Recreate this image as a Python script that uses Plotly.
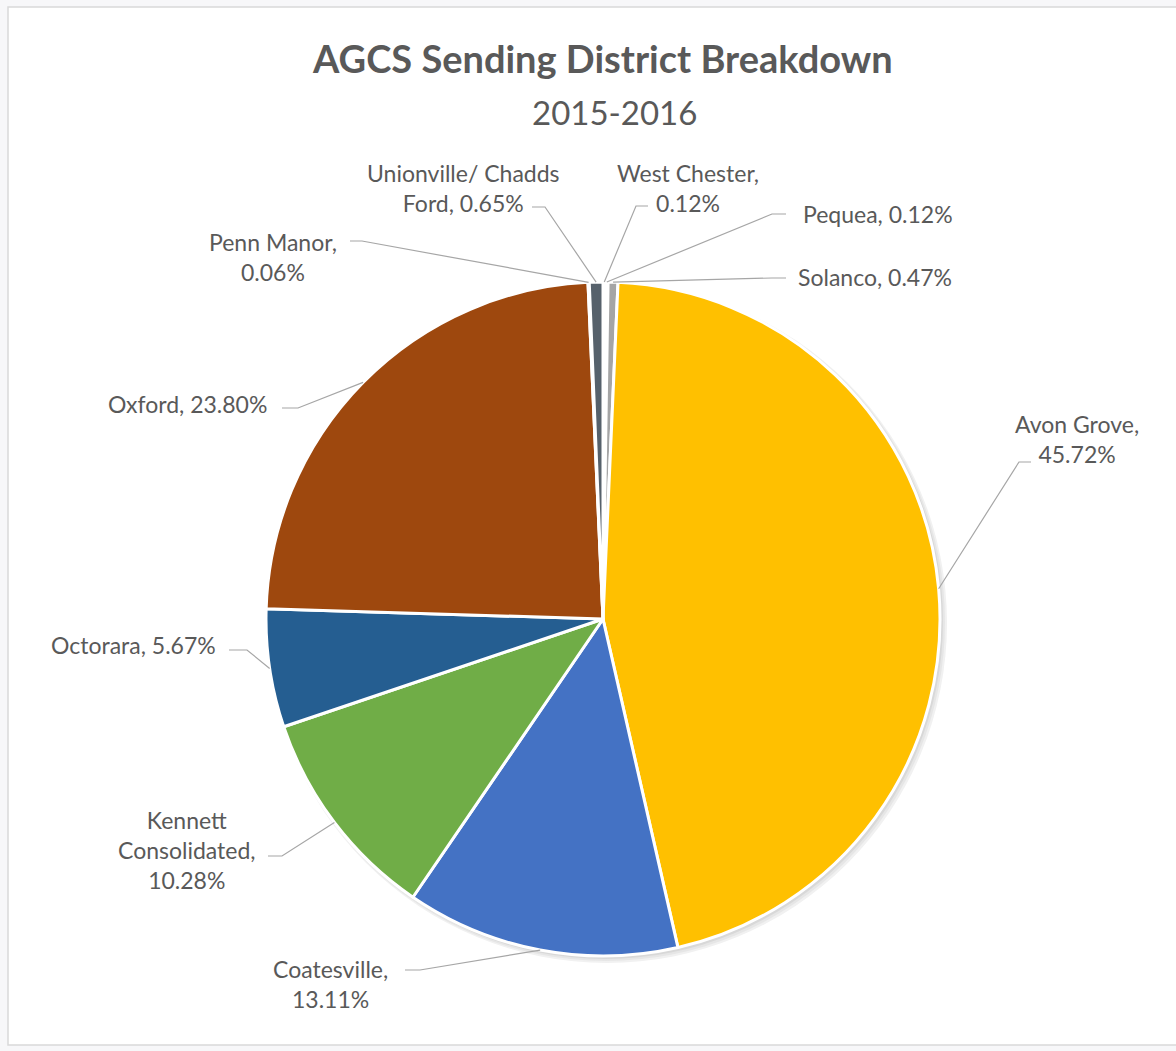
import math
import plotly.graph_objects as go

# ---------------- data ----------------
districts = ["West Chester", "Pequea", "Solanco", "Avon Grove", "Coatesville",
             "Kennett Consolidated", "Octorara", "Oxford", "Penn Manor",
             "Unionville/ Chadds Ford"]
shares = [0.12, 0.12, 0.47, 45.72, 13.11, 10.28, 5.67, 23.80, 0.06, 0.65]
label_templates = [
    "West Chester,<br>{v}",
    "Pequea, {v}",
    "Solanco, {v}",
    "Avon Grove,<br>{v}",
    "Coatesville,<br>{v}",
    "Kennett<br>Consolidated,<br>{v}",
    "Octorara, {v}",
    "Oxford, {v}",
    "Penn Manor,<br>{v}",
    "Unionville/ Chadds<br>Ford, {v}",
]
title_text = "AGCS Sending District Breakdown"
subtitle_text = "2015-2016"

# ---------------- style / layout ----------------
colors = ["#5B9BD5", "#ED7D31", "#A5A5A5", "#FFC000", "#4472C4",
          "#70AD47", "#255E91", "#9E480E", "#997300", "#56616B"]
W, H = 1176, 1051
cx, cy, R = 603, 619, 337
FONT = "Lato, 'Open Sans', sans-serif"
TXT = "#595959"
LINE = "#A6A6A6"

# label centres (px) and leader line start/elbow (px)
label_pos = [(688, 188), (878, 214), (875, 277), (1077, 439), (330, 984),
             (187, 850), (133, 645), (187, 404), (273, 257), (463, 188)]
leader_start = [(648, 206), (786, 214), (786, 278), (1031, 462), (405, 970),
                (268, 856), (229, 650), (282, 408), (350, 241), (532, 207)]
leader_elbow = [(636, 206), (772, 214), (772, 278), (1019, 462), (420, 970),
                (282, 856), (247, 650), (298, 408), (362, 241), (545, 207)]


def px(x):
    return x / W


def py(y):
    return 1 - y / H


fig = go.Figure()
fig.add_trace(go.Pie(
    labels=districts,
    values=shares,
    sort=False,
    direction="clockwise",
    rotation=0,
    textinfo="none",
    hoverinfo="label+percent",
    marker=dict(colors=colors, line=dict(color="white", width=3)),
    domain=dict(x=[px(cx - R), px(cx + R)], y=[py(cy + R), py(cy - R)]),
    showlegend=False,
))

total = sum(shares)
annotations = []
shapes = [
    dict(type="rect", xref="paper", yref="paper", layer="below",
         x0=px(8), x1=px(1190), y0=py(1045), y1=py(7),
         fillcolor="white", line=dict(color="#D9D9D9", width=1.5)),
]
# soft shadow behind the pie
for off, col in [(7, "#F1F1F1"), (5, "#E6E6E6"), (3, "#D8D8D8")]:
    shapes.append(dict(
        type="circle", xref="paper", yref="paper", layer="below",
        x0=px(cx - R + 1), x1=px(cx + R + off), y0=py(cy + R + off), y1=py(cy - R + 1),
        fillcolor=col, line=dict(width=0)))

cum = 0.0
for i, v in enumerate(shares):
    mid = (cum + v / 2) / total * 2 * math.pi
    cum += v
    tx = cx + R * math.sin(mid)
    ty = cy - R * math.cos(mid)
    sx, sy = leader_start[i]
    ex, ey = leader_elbow[i]
    shapes.append(dict(
        type="path", xref="paper", yref="paper", layer="above",
        path=f"M {px(sx)} {py(sy)} L {px(ex)} {py(ey)} L {px(tx)} {py(ty)}",
        line=dict(color=LINE, width=1.2),
    ))
    lx, ly = label_pos[i]
    annotations.append(dict(
        x=px(lx), y=py(ly), xref="paper", yref="paper",
        text=label_templates[i].format(v=f"{v:.2f}%"),
        showarrow=False, align="center", xanchor="center", yanchor="middle",
        font=dict(family=FONT, size=23, color=TXT),
    ))

annotations.append(dict(
    x=px(602), y=py(58), xref="paper", yref="paper", text=f"<b>{title_text}</b>",
    showarrow=False, xanchor="center", yanchor="middle",
    font=dict(family=FONT, size=38, color=TXT)))
annotations.append(dict(
    x=px(614), y=py(112), xref="paper", yref="paper", text=subtitle_text,
    showarrow=False, xanchor="center", yanchor="middle",
    font=dict(family=FONT, size=33, color=TXT)))

fig.update_layout(
    width=W, height=H,
    margin=dict(l=0, r=0, t=0, b=0),
    paper_bgcolor="#F7F7F9",
    plot_bgcolor="white",
    annotations=annotations,
    shapes=shapes,
)

fig.write_html("out.html", config={"displayModeBar": False},
               post_script="document.body.style.margin='0px';")
